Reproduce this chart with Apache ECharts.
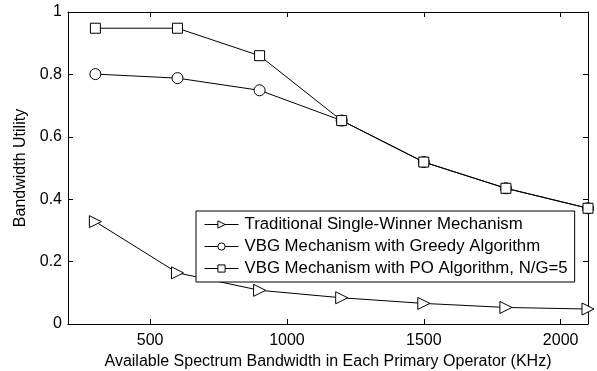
<!DOCTYPE html>
<html>
<head>
<meta charset="utf-8">
<script src="https://cdn.jsdelivr.net/npm/echarts@6/dist/echarts.min.js"></script>
<style>
  html, body { margin: 0; padding: 0; background: #fff; }
  #chart { width: 597px; height: 371px; }
</style>
</head>
<body>
<div id="chart"></div>
<script>
// bandwidth values on the x axis (KHz)
const bandwidth = [300, 600, 900, 1200, 1500, 1800, 2100];
const singleWinner = [0.328, 0.164, 0.108, 0.084, 0.066, 0.053, 0.048];
const greedy = [0.801, 0.788, 0.749, 0.652, 0.519, 0.435, 0.371];
const poAlgo = [0.948, 0.948, 0.860, 0.652, 0.519, 0.435, 0.371];
const xTicks = [500, 1000, 1500, 2000];
const yTicks = [0, 0.2, 0.4, 0.6, 0.8, 1];

const FONT = 'Liberation Sans, Arial, sans-serif';
const pairs = (ys) => bandwidth.map((x, i) => [x, ys[i]]);

const chart = echarts.init(document.getElementById('chart'));

const axisCommon = {
  axisLine: { show: true, onZero: false, lineStyle: { color: '#000', width: 1 } },
  axisTick: { show: true, inside: true, length: 5, lineStyle: { color: '#000' } },
  splitLine: { show: false },
};

const seriesBase = {
  type: 'line',
  symbolSize: 10,
  lineStyle: { color: '#000', width: 1 },
  itemStyle: { color: '#fff', borderColor: '#000', borderWidth: 1 },
  animation: false,
};

chart.setOption({
  backgroundColor: '#fff',
  textStyle: { fontFamily: FONT },
  grid: { left: 68, right: 9, top: 12, bottom: 47, containLabel: false, outerBoundsMode: 'none' },
  legend: {
    orient: 'vertical',
    left: 196,
    top: 211,
    itemWidth: 34,
    itemHeight: 9,
    itemGap: 5,
    padding: [5, 7, 5, 8],
    borderColor: '#000',
    borderWidth: 1,
    backgroundColor: '#fff',
    itemStyle: { color: '#fff', borderColor: '#000', borderWidth: 1 },
    lineStyle: { color: '#000', width: 1 },
    textStyle: { fontFamily: FONT, fontSize: 16.8, color: '#000', padding: [0, 0, 0, 1] },
    data: [
      'Traditional Single-Winner Mechanism',
      'VBG Mechanism with Greedy Algorithm',
      'VBG Mechanism with PO Algorithm, N/G=5',
    ],
  },
  xAxis: [
    {
      ...axisCommon,
      type: 'value',
      min: 200,
      max: 2100,
      name: 'Available Spectrum Bandwidth in Each Primary Operator (KHz)',
      nameLocation: 'middle',
      nameGap: 29,
      nameTextStyle: { fontFamily: FONT, fontSize: 16, color: '#000' },
      axisTick: { ...axisCommon.axisTick, customValues: xTicks },
      axisLabel: {
        customValues: xTicks,
        formatter: (v) => String(v),
        fontFamily: FONT, fontSize: 16, color: '#000', margin: 9,
      },
    },
    {
      ...axisCommon,
      type: 'value',
      position: 'top',
      min: 200,
      max: 2100,
      axisTick: { ...axisCommon.axisTick, customValues: xTicks },
      axisLabel: { show: false },
    },
  ],
  yAxis: [
    {
      ...axisCommon,
      type: 'value',
      min: 0,
      max: 1,
      interval: 0.2,
      name: 'Bandwidth Utility',
      nameLocation: 'middle',
      nameGap: 32,
      nameTextStyle: { fontFamily: FONT, fontSize: 16, color: '#000' },
      axisTick: { ...axisCommon.axisTick, customValues: yTicks },
      axisLabel: {
        customValues: yTicks,
        formatter: (v) => String(v),
        fontFamily: FONT, fontSize: 16, color: '#000', margin: 6,
      },
    },
    {
      ...axisCommon,
      type: 'value',
      position: 'right',
      min: 0,
      max: 1,
      interval: 0.2,
      axisTick: { ...axisCommon.axisTick, customValues: yTicks },
      axisLabel: { show: false },
    },
  ],
  series: [
    {
      ...seriesBase,
      name: 'Traditional Single-Winner Mechanism',
      symbol: 'triangle',
      symbolRotate: -90,
      symbolSize: 12,
      data: pairs(singleWinner),
    },
    {
      ...seriesBase,
      name: 'VBG Mechanism with Greedy Algorithm',
      symbol: 'circle',
      symbolSize: 11,
      data: pairs(greedy),
    },
    {
      ...seriesBase,
      name: 'VBG Mechanism with PO Algorithm, N/G=5',
      symbol: 'rect',
      symbolSize: 10,
      data: pairs(poAlgo),
    },
  ],
});
</script>
</body>
</html>
